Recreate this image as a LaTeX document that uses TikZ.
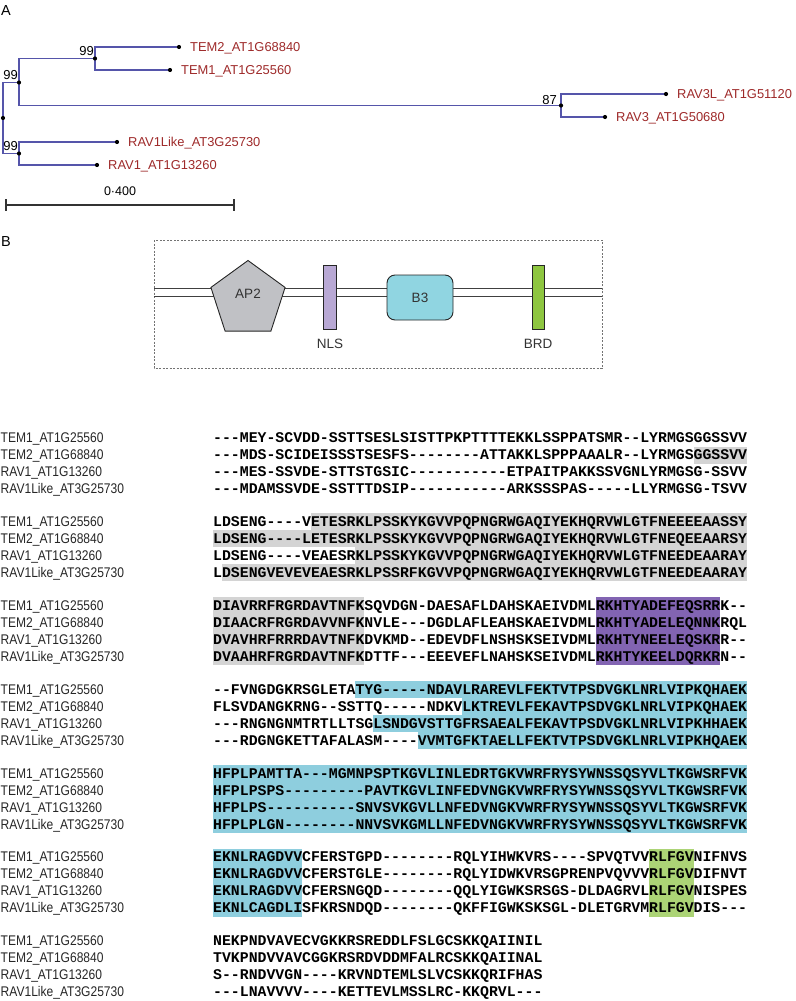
\documentclass[tikz,border=0pt]{standalone}
\usepackage{fontspec}
\setmainfont{Liberation Sans}
\setmonofont{Liberation Mono}
\newfontfamily\namefont{Liberation Sans}[FakeStretch=0.86]
\usetikzlibrary{shapes.geometric}

\definecolor{treeblue}{RGB}{85,85,170}
\definecolor{leafred}{RGB}{158,42,42}
\definecolor{hlgray}{RGB}{212,212,212}
\definecolor{hlpurple}{RGB}{130,100,178}
\definecolor{hlcyan}{RGB}{142,206,222}
\definecolor{hlgreen}{RGB}{172,212,118}
\definecolor{ap2gray}{RGB}{192,193,197}
\definecolor{nlsvio}{RGB}{184,168,212}
\definecolor{b3cyan}{RGB}{144,213,225}
\definecolor{brdgreen}{RGB}{142,198,64}

\newcommand{\ry}[2]{438+83.8*#1+17*#2}
\newcommand{\hlr}[5]{\fill[#5] ({213+8.9*#3},{\ry{#1}{#2}-8.5}) rectangle ({213+8.9*(#4+1)},{\ry{#1}{#2}+8.5});}
\newcommand{\alnrow}[4]{%
  \node[nametext] (nm#1#2) at (0.5,{\ry{#1}{#2}+4.8}) {#3};
  \node[seqtext] (sq#1#2) at (213,{\ry{#1}{#2}+4.9}) {#4};}
\newcommand{\alnblock}[5]{%
  \alnrow{#1}{0}{TEM1\_AT1G25560}{#2}
  \alnrow{#1}{1}{TEM2\_AT1G68840}{#3}
  \alnrow{#1}{2}{RAV1\_AT1G13260}{#4}
  \alnrow{#1}{3}{RAV1Like\_AT3G25730}{#5}}

\begin{document}
\begin{tikzpicture}[x=1pt,y=-1pt,
  treeline/.style={draw=treeblue, line width=1.3pt},
  leaf/.style={anchor=base west, text=leafred, inner sep=0pt, font=\fontsize{12.9}{15}\selectfont},
  boot/.style={anchor=south east, inner sep=0pt, font=\fontsize{13}{15}\selectfont},
  panel/.style={anchor=west, inner sep=0pt, font=\fontsize{14.5}{17}\selectfont},
  dtext/.style={inner sep=0pt, text=black!80, font=\fontsize{13.5}{15}\selectfont},
  domline/.style={draw=black!75, line width=1.1pt},
  domshape/.style={draw=black!85, line width=0.9pt, inner sep=0pt},
  seqtext/.style={anchor=base west, inner sep=0pt, font=\ttfamily\bfseries\fontsize{14.83}{17}\selectfont},
  nametext/.style={anchor=base west, inner sep=0pt, text=black!85, font=\namefont\fontsize{14}{16}\selectfont}]
\useasboundingbox (0,0) rectangle (795,1001);

% ---------------- Panel A: tree ----------------
\node[panel] (pA) at (1,11) {A};
\coordinate (root) at (3,118);
\coordinate (n1) at (19,82.5);
\coordinate (nTEM) at (95,58.5);
\coordinate (nR3) at (561,105.5);
\coordinate (nR1) at (19,153.5);
\coordinate (lTEM2) at (179,47);
\coordinate (lTEM1) at (170,70);
\coordinate (lR3L) at (666,94);
\coordinate (lR3) at (605,117);
\coordinate (lR1L) at (117,142);
\coordinate (lR1) at (97,165);

\draw[treeline] (n1) -| (root) |- (nR1);
\draw[treeline] (nTEM) -| (n1) |- (nR3);
\draw[treeline] (lTEM2) -| (nTEM) |- (lTEM1);
\draw[treeline] (lR3L) -| (nR3) |- (lR3);
\draw[treeline] (lR1L) -| (nR1) |- (lR1);
\foreach \p in {root,n1,nTEM,nR3,nR1,lTEM2,lTEM1,lR3L,lR3,lR1L,lR1}
  \fill (\p) circle (2.1pt);

\node[leaf] (tTEM2) at ([shift={(11,4.6)}]lTEM2) {TEM2\_AT1G68840};
\node[leaf] (tTEM1) at ([shift={(11,4.6)}]lTEM1) {TEM1\_AT1G25560};
\node[leaf] (tR3L) at ([shift={(11,4.6)}]lR3L) {RAV3L\_AT1G51120};
\node[leaf] (tR3) at ([shift={(11,4.6)}]lR3) {RAV3\_AT1G50680};
\node[leaf] (tR1L) at ([shift={(11,4.6)}]lR1L) {RAV1Like\_AT3G25730};
\node[leaf] (tR1) at ([shift={(11,4.6)}]lR1) {RAV1\_AT1G13260};

\node[boot] (b1) at ([shift={(-1,-2.5)}]n1) {99};
\node[boot] (b2) at ([shift={(-1,-2.5)}]nTEM) {99};
\node[boot] (b3) at ([shift={(-1,-2.5)}]nR1) {99};
\node[boot] (b4) at ([shift={(-4,-0.5)}]nR3) {87};

\coordinate (sb1) at (6,205);
\coordinate (sb2) at (234,205);
\draw[line width=1.3pt, black!80] (sb1) -- (sb2);
\draw[line width=1.1pt, black!80] ([yshift=6pt]sb1) -- ([yshift=-6pt]sb1);
\draw[line width=1.1pt, black!80] ([yshift=6pt]sb2) -- ([yshift=-6pt]sb2);
\node[inner sep=0pt, font=\fontsize{12.5}{14}\selectfont] (sbl) at (120,191) {0·400};

% ---------------- Panel B: domains ----------------
\node[panel] (pB) at (1,242) {B};
\draw[draw=black!55, line width=0.6pt, dash pattern=on 2pt off 1.5pt] (154,240) rectangle (602,368);
\coordinate (la1) at (154,288.5);
\coordinate (lb1) at (602,288.5);
\coordinate (la2) at (154,296.5);
\coordinate (lb2) at (602,296.5);
\draw[domline] (la1) -- (lb1);
\draw[domline] (la2) -- (lb2);

\node[domshape, regular polygon, regular polygon sides=5, minimum size=78pt, fill=ap2gray] (ap2) at (248,299.5) {};
\node[dtext] (ap2t) at (248,294) {AP2};
\node[domshape, fill=nlsvio, minimum width=13pt, minimum height=64pt] (nls) at (329.5,297) {};
\node[dtext] (nlst) at (330,344) {NLS};
\node[domshape, fill=b3cyan, rounded corners=8pt, minimum width=66pt, minimum height=45pt] (b3box) at (420,297.5) {};
\node[dtext] (b3t) at (420,298) {B3};
\node[domshape, fill=brdgreen, minimum width=12pt, minimum height=64pt] (brd) at (538,297) {};
\node[dtext] (brdt) at (538,344) {BRD};

% ---------------- Alignment shading ----------------
\hlr{0}{1}{54}{59}{hlgray}
\hlr{1}{0}{11}{59}{hlgray}
\hlr{1}{1}{0}{59}{hlgray}
\hlr{1}{2}{16}{59}{hlgray}
\hlr{1}{3}{1}{59}{hlgray}
\foreach \r in {0,1,2,3} {\hlr{2}{\r}{0}{16}{hlgray}\hlr{2}{\r}{43}{56}{hlpurple}}
\hlr{3}{0}{16}{59}{hlcyan}
\hlr{3}{1}{28}{59}{hlcyan}
\hlr{3}{2}{18}{59}{hlcyan}
\hlr{3}{3}{23}{59}{hlcyan}
\foreach \r in {0,1,2,3} {\hlr{4}{\r}{0}{59}{hlcyan}}
\foreach \r in {0,1,2,3} {\hlr{5}{\r}{0}{9}{hlcyan}\hlr{5}{\r}{49}{53}{hlgreen}}

% ---------------- Alignment text ----------------
\alnblock{0}
 {---MEY-SCVDD-SSTTSESLSISTTPKPTTTTEKKLSSPPATSMR--LYRMGSGGSSVV}
 {---MDS-SCIDEISSSTSESFS--------ATTAKKLSPPPAAALR--LYRMGSGGSSVV}
 {---MES-SSVDE-STTSTGSIC-----------ETPAITPAKKSSVGNLYRMGSG-SSVV}
 {---MDAMSSVDE-SSTTTDSIP-----------ARKSSSPAS-----LLYRMGSG-TSVV}
\alnblock{1}
 {LDSENG----VETESRKLPSSKYKGVVPQPNGRWGAQIYEKHQRVWLGTFNEEEEAASSY}
 {LDSENG----LETESRKLPSSKYKGVVPQPNGRWGAQIYEKHQRVWLGTFNEQEEAARSY}
 {LDSENG----VEAESRKLPSSKYKGVVPQPNGRWGAQIYEKHQRVWLGTFNEEDEAARAY}
 {LDSENGVEVEVEAESRKLPSSRFKGVVPQPNGRWGAQIYEKHQRVWLGTFNEEDEAARAY}
\alnblock{2}
 {DIAVRRFRGRDAVTNFKSQVDGN-DAESAFLDAHSKAEIVDMLRKHTYADEFEQSRRK--}
 {DIAACRFRGRDAVVNFKNVLE---DGDLAFLEAHSKAEIVDMLRKHTYADELEQNNKRQL}
 {DVAVHRFRRRDAVTNFKDVKMD--EDEVDFLNSHSKSEIVDMLRKHTYNEELEQSKRR--}
 {DVAAHRFRGRDAVTNFKDTTF---EEEVEFLNAHSKSEIVDMLRKHTYKEELDQRKRN--}
\alnblock{3}
 {--FVNGDGKRSGLETATYG-----NDAVLRAREVLFEKTVTPSDVGKLNRLVIPKQHAEK}
 {FLSVDANGKRNG--SSTTQ-----NDKVLKTREVLFEKAVTPSDVGKLNRLVIPKQHAEK}
 {---RNGNGNMTRTLLTSGLSNDGVSTTGFRSAEALFEKAVTPSDVGKLNRLVIPKHHAEK}
 {---RDGNGKETTAFALASM----VVMTGFKTAELLFEKTVTPSDVGKLNRLVIPKHQAEK}
\alnblock{4}
 {HFPLPAMTTA---MGMNPSPTKGVLINLEDRTGKVWRFRYSYWNSSQSYVLTKGWSRFVK}
 {HFPLPSPS---------PAVTKGVLINFEDVNGKVWRFRYSYWNSSQSYVLTKGWSRFVK}
 {HFPLPS----------SNVSVKGVLLNFEDVNGKVWRFRYSYWNSSQSYVLTKGWSRFVK}
 {HFPLPLGN--------NNVSVKGMLLNFEDVNGKVWRFRYSYWNSSQSYVLTKGWSRFVK}
\alnblock{5}
 {EKNLRAGDVVCFERSTGPD--------RQLYIHWKVRS----SPVQTVVRLFGVNIFNVS}
 {EKNLRAGDVVCFERSTGLE--------RQLYIDWKVRSGPRENPVQVVVRLFGVDIFNVT}
 {EKNLRAGDVVCFERSNGQD--------QQLYIGWKSRSGS-DLDAGRVLRLFGVNISPES}
 {EKNLCAGDLISFKRSNDQD--------QKFFIGWKSKSGL-DLETGRVMRLFGVDIS---}
\alnblock{6}
 {NEKPNDVAVECVGKKRSREDDLFSLGCSKKQAIINIL}
 {TVKPNDVVAVCGGKRSRDVDDMFALRCSKKQAIINAL}
 {S--RNDVVGN----KRVNDTEMLSLVCSKKQRIFHAS}
 {---LNAVVVV----KETTEVLMSSLRC-KKQRVL---}
\end{tikzpicture}
\end{document}
